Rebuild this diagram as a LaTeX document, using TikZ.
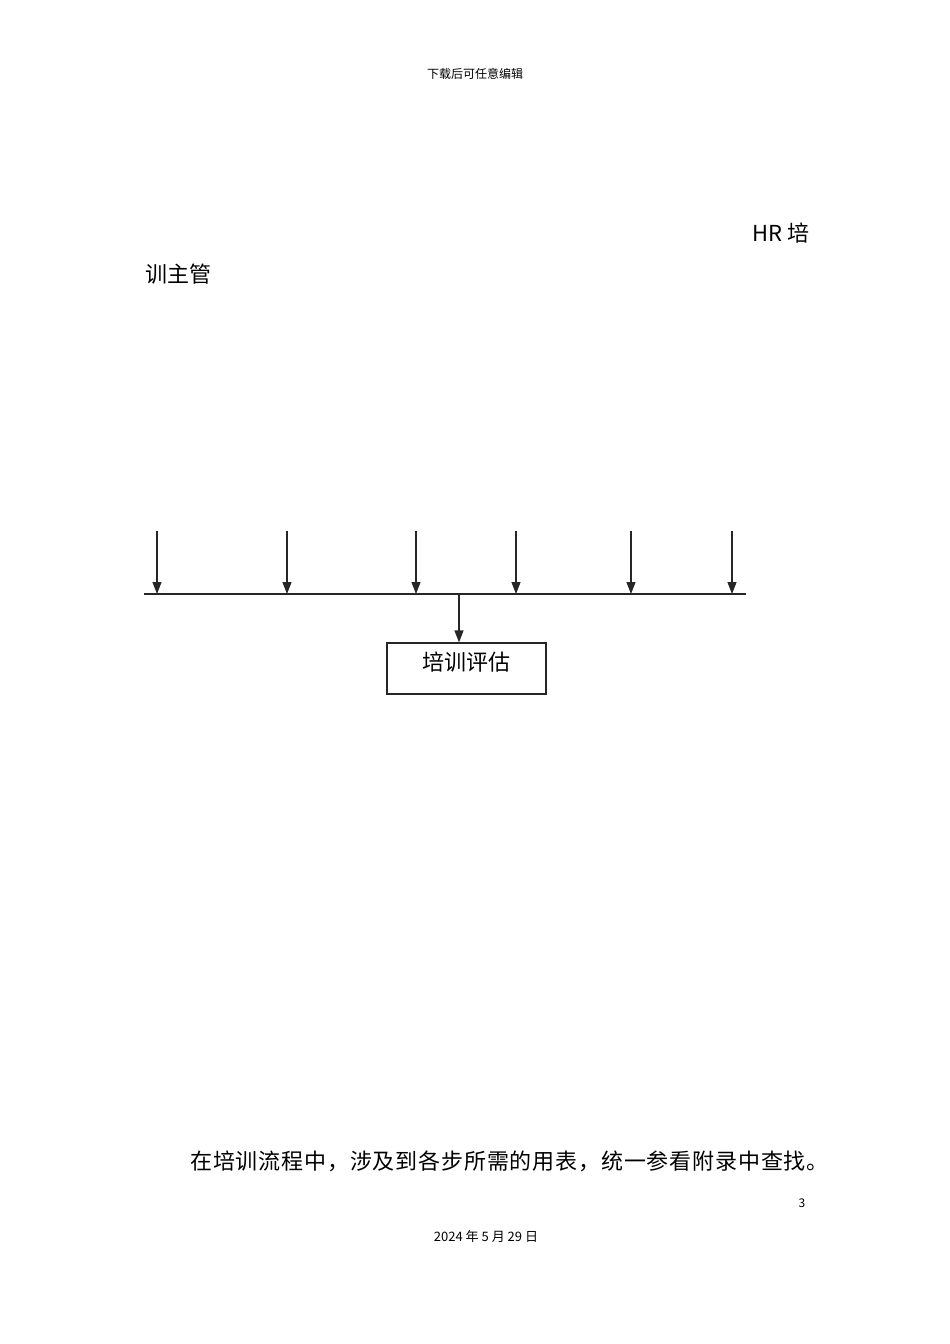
\documentclass[tikz,border=0pt]{standalone}
\usepackage{fontspec}
\newfontfamily\cjk{Noto Sans CJK SC}
\usetikzlibrary{arrows.meta}
\begin{document}
\begin{tikzpicture}[x=1pt,y=-1pt,
  ln/.style={line width=1.2pt,draw=black!85},
  arr/.style={ln,-{Triangle[length=12pt,width=9pt]}},
  txt/.style={inner sep=0pt,anchor=west}]
\useasboundingbox (0,0) rectangle (950,1344);
\node[inner sep=0pt] (hdr) at (475,74) {\cjk\fontsize{12}{14}\selectfont 下载后可任意编辑};
\node[txt] (hr) at (752,233) {\cjk\fontsize{22}{26}\selectfont HR 培};
\node[txt] (hr2) at (145,274) {\cjk\fontsize{22}{26}\selectfont 训主管};
% arrows
\foreach \n/\x in {a1/157,a2/287,a3/416,a4/516,a5/631,a6/732}{
  \coordinate (\n s) at (\x,531);
  \coordinate (\n e) at (\x,594);
  \draw[arr] (\n s) -- (\n e);
}
\coordinate (hl) at (144,594);
\coordinate (hr3) at (746,594);
\draw[ln] (hl) -- (hr3);
\coordinate (cs) at (459,594);
\node[draw=black!85,line width=1.2pt,minimum width=159pt,minimum height=51pt,inner sep=0pt] (box) at (466.5,668.5) {};
\node[inner sep=0pt] (boxt) at (466,662) {\cjk\fontsize{22}{26}\selectfont 培训评估};
\draw[arr] (cs) -- (cs |- box.north);
\node[txt] (foot) at (190,1161) {\cjk\fontsize{22}{26}\selectfont\addfontfeature{LetterSpace=3.8} 在培训流程中，涉及到各步所需的用表，统一参看附录中查找。};
\node[inner sep=0pt] (pg) at (802,1203) {\cjk\fontsize{12}{14}\selectfont 3};
\node[inner sep=0pt] (date) at (486,1237) {\cjk\fontsize{13}{15}\selectfont 2024 年 5 月 29 日};
\end{tikzpicture}
\end{document}
